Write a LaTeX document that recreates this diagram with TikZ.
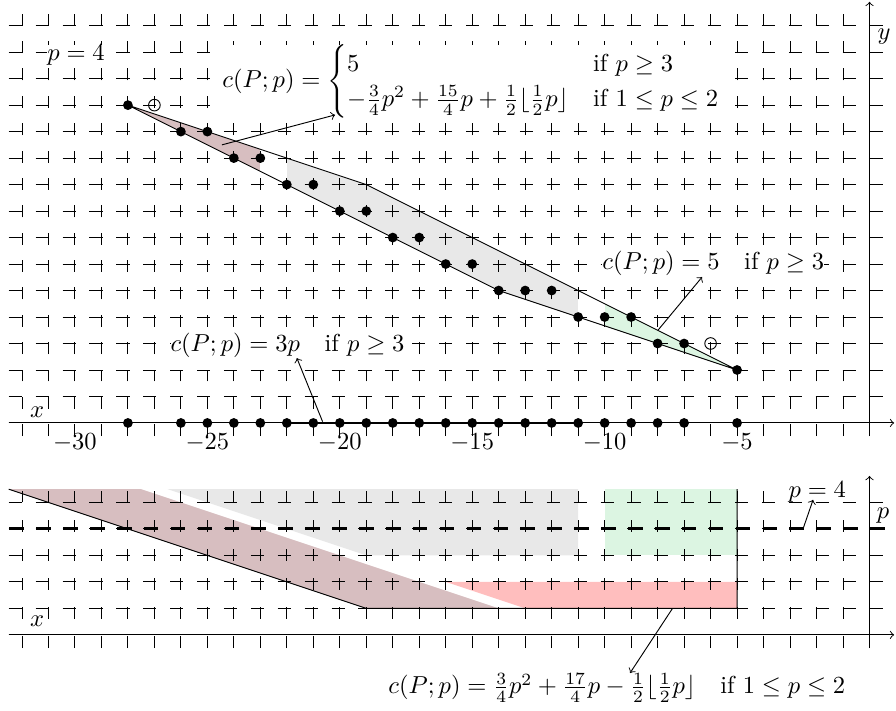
\documentclass[tikz,border=0pt]{standalone}
\usepackage{amsmath}
\definecolor{brownr}{RGB}{215,190,192}
\definecolor{grayr}{RGB}{232,232,232}
\definecolor{greenr}{RGB}{220,245,226}
\definecolor{redr}{RGB}{255,190,190}
\begin{document}
\begin{tikzpicture}[x=0.4cm,y=0.4cm,
  gridh/.style={line width=0.4pt, dash pattern=on 0.2cm off 0.20625cm},
  gridvtop/.style={line width=0.4pt, dash pattern=on 0.18cm off 0.23333cm},
  gridvbot/.style={line width=0.4pt, dash pattern=on 0.18cm off 0.26cm},
  pline/.style={line width=1.3pt, dash pattern=on 0.22cm off 0.18625cm, dash phase=0.39625cm},
  dot/.style={circle, fill=black, inner sep=0pt, minimum size=4.2pt},
  odot/.style={circle, draw=black, inner sep=0pt, minimum size=5pt, line width=0.4pt},
  txt/.style={scale=1.055},
  lbl/.style={txt, fill=white, inner sep=0pt},
  ax/.style={->, line width=0.4pt},
  ptr/.style={->, line width=0.4pt},
  edge/.style={line width=0.4pt},
  thickseg/.style={line width=1.1pt}]
\useasboundingbox (-32.83,-10.84) rectangle (1.0,15.97);

% ---------- top plot fills ----------
\begin{scope}
  \clip (-28,12) -- (-19,9) -- (-5,2) -- (-14,5) -- cycle;
  \fill[brownr] (-28,0) rectangle (-23,13);
  \fill[grayr] (-22,0) rectangle (-11,13);
  \fill[greenr] (-10,0) rectangle (-5,13);
\end{scope}

% ---------- bottom plot fills ----------
\begin{scope}[shift={(0,-8)}]
  \fill[brownr] (-19,1) -- (-14,1) -- (-27.5,5.5) -- (-32.5,5.5) -- cycle;
  \fill[grayr] (-19,3) -- (-11,3) -- (-11,5.5) -- (-26.5,5.5) -- cycle;
  \fill[greenr] (-10,3) rectangle (-5,5.5);
  \fill[redr] (-13,1) -- (-5,1) -- (-5,2) -- (-16,2) -- cycle;
\end{scope}

% ---------- grids ----------
\foreach \y in {0,...,15} \draw[gridh] (-32.5,\y) -- (0.5,\y);
\foreach \x in {-32,...,0} \draw[gridvtop] (\x,-0.5) -- (\x,15.45);
\begin{scope}[shift={(0,-8)}]
  \foreach \y in {0,...,5} \draw[gridh] (-32.5,\y) -- (0.5,\y);
  \foreach \x in {-32,...,0} \draw[gridvbot] (\x,-0.5) -- (\x,5.45);
  \draw[pline] (-32.5,4) -- (0.6,4);
  % axes
  \draw[ax] (-32.5,0) -- (0.93,0);
  \draw[ax] (0,-0.5) -- (0,6);
  % domain boundary
  \draw[edge] (-32.5,5.5) -- (-19,1) -- (-5,1) -- (-5,5.5);
\end{scope}

% ---------- top axes ----------
\draw[ax] (-32.5,0) -- (0.93,0);
\draw[ax] (0,-0.5) -- (0,15.9);

% polygon
\draw[edge] (-28,12) -- (-19,9) -- (-5,2) -- (-14,5) -- cycle;
\draw[thickseg] (-22,0) -- (-11,0);

% dots
\foreach \x/\y [count=\i] in {-28/12,-26/11,-25/11,-24/10,-23/10,-22/9,-21/9,-20/8,-19/8,-18/7,-17/7,-16/6,-15/6,-14/5,-13/5,-12/5,-11/4,-10/4,-9/4,-8/3,-7/3,-5/2}{
  \node[dot] (pt\i) at (\x,\y) {};
  \node[dot] (px\i) at (\x,0) {};
}
\node[odot] (o1) at (-27,12) {};
\node[odot] (o2) at (-6,3) {};

% tick labels
\foreach \x [count=\i] in {-30,-25,-20,-15,-10,-5}
  \node[txt, inner sep=0pt, anchor=north] (tk\i) at (\x,-0.38) {$\x$};

% axis names
\node[txt] (lx) at (-31.43,0.42) {$x$};
\node[txt] (ly) at (0.55,14.58) {$y$};
\node[txt] (lx2) at (-31.43,-7.5) {$x$};
\node[txt] (lp) at (0.51,-3.51) {$p$};

% labels
\node[lbl, anchor=west] (lp4) at (-31.06,13.9) {$p = 4$};
\node[lbl, anchor=west] (lc) at (-24.45,12.88) {$c(P;p) = \begin{cases} 5 & \text{if } p \geq 3\\ -\frac34 p^2 + \frac{15}4 p + \frac12 \lfloor \frac12 p \rfloor & \text{if } 1 \le p \le 2 \end{cases}$};
\node[lbl, anchor=west] (l5) at (-10.1,6.04) {$c(P;p) = 5 \quad \text{if } p \geq 3$};
\node[lbl, anchor=west] (l3p) at (-26.41,2.93) {$c(P;p) = 3p \quad \text{if } p \geq 3$};
\node[lbl, anchor=west] (lq4) at (-3.07,-2.61) {$p = 4$};
\node[lbl, anchor=west] (lbig) at (-18.18,-10.0) {$c(P;p) = \frac34 p^2 + \frac{17}4 p - \frac12 \lfloor \frac12 p \rfloor \quad \text{if } 1 \le p \le 2$};

% pointers
\coordinate (a1) at (-24.45,10.5);   \coordinate (a1t) at (-20.18,11.63);
\coordinate (a2) at (-7.98,3.51);    \coordinate (a2t) at (-6.32,5.51);
\coordinate (a3) at (-20.65,0.05);   \coordinate (a3t) at (-21.62,2.45);
\coordinate (a4) at (-2.51,-4.0);    \coordinate (a4t) at (-2.13,-2.9);
\coordinate (a5) at (-7.45,-7.02);   \coordinate (a5t) at (-9.04,-9.44);
\draw[ptr] (a1) -- (a1t);
\draw[ptr] (a2) -- (a2t);
\draw[ptr] (a3) -- (a3t);
\draw[ptr] (a4) -- (a4t);
\draw[ptr] (a5) -- (a5t);
\end{tikzpicture}
\end{document}
